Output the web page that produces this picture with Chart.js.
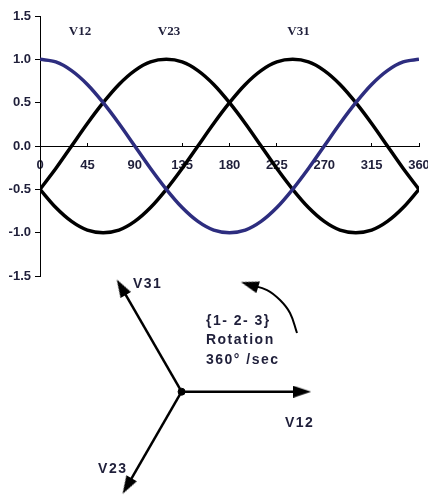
<!DOCTYPE html>
<html>
<head>
<meta charset="utf-8">
<script src="https://cdn.jsdelivr.net/npm/chart.js@4/dist/chart.umd.min.js"></script>
<style>
  html, body { margin: 0; padding: 0; background: #fff; }
  #page { position: relative; width: 428px; height: 502px; overflow: hidden; }
  #waveBox { position: absolute; left: 0; top: 0; width: 428px; height: 292px; }
  #phasorBox { position: absolute; left: 0; top: 262px; width: 428px; height: 240px; }
</style>
</head>
<body>
<div id="page">
  <div id="waveBox"><canvas id="waveChart"></canvas></div>
  <div id="phasorBox"><canvas id="phasorChart"></canvas></div>
</div>
<script>
// Winkel in Grad (x-Achse)
let angles = [0, 15, 30, 45, 60, 75, 90, 105, 120, 135, 150, 165, 180, 195, 210, 225, 240, 255, 270, 285, 300, 315, 330, 345, 360];
// Spannungsverläufe
let v12 = [1.00, 0.97, 0.87, 0.71, 0.50, 0.26, 0.00, -0.26, -0.50, -0.71, -0.87, -0.97, -1.00, -0.97, -0.87, -0.71, -0.50, -0.26, 0.00, 0.26, 0.50, 0.71, 0.87, 0.97, 1.00];
let v23 = [-0.50, -0.26, 0.00, 0.26, 0.50, 0.71, 0.87, 0.97, 1.00, 0.97, 0.87, 0.71, 0.50, 0.26, 0.00, -0.26, -0.50, -0.71, -0.87, -0.97, -1.00, -0.97, -0.87, -0.71, -0.50];
let v31 = [-0.50, -0.71, -0.87, -0.97, -1.00, -0.97, -0.87, -0.71, -0.50, -0.26, 0.00, 0.26, 0.50, 0.71, 0.87, 0.97, 1.00, 0.97, 0.87, 0.71, 0.50, 0.26, 0.00, -0.26, -0.50];
// Beschriftungen der Kurven
let waveNames = ['V12', 'V23', 'V31'];
let waveNameX = [38, 122.5, 245.5];
let waveNameY = [1.28, 1.28, 1.28];

// Zeigerdiagramm
let phasorNames = ['V12', 'V23', 'V31'];
let phasorAngles = [0, 240, 120];
let phasorLengths = [0.93, 0.84, 0.93];
let phasorNameX = [0.797, -0.644, -0.375];
let phasorNameY = [-0.272, -0.627, 0.80];
// Drehpfeil
let arcX = [0.890, 0.836, 0.759, 0.659, 0.524];
let arcY = [0.453, 0.607, 0.707, 0.784, 0.825];
let arcHeadRotation = 287;
let rotationText = ['{1- 2- 3}', 'Rotation', '360° /sec'];
let rotationTextX = 0.188;
let rotationTextY = [0.514, 0.368, 0.214];

let textColor = '#1f1f3a';
let navy = '#2d2d7f';

// Pfeilspitze als kleines Bild
let arrowHead = document.createElement('canvas');
arrowHead.width = 12;
arrowHead.height = 18;
let ah = arrowHead.getContext('2d');
ah.fillStyle = '#000';
ah.beginPath();
ah.moveTo(6, 0);
ah.lineTo(12, 18);
ah.lineTo(0, 18);
ah.closePath();
ah.fill();

// Plugin für Textbeschriftungen in Datenkoordinaten
let textPlugin = {
  id: 'texts',
  afterDatasetsDraw(chart, args, opts) {
    let ctx = chart.ctx;
    ctx.save();
    opts.items.forEach(item => {
      ctx.font = item.font;
      ctx.fillStyle = item.color || textColor;
      ctx.textAlign = item.align || 'left';
      ctx.textBaseline = 'alphabetic';
      ctx.letterSpacing = item.spacing || '0px';
      ctx.fillText(item.text, chart.scales.x.getPixelForValue(item.x), chart.scales.y.getPixelForValue(item.y));
    });
    ctx.restore();
  }
};

let tickFont = { family: 'Liberation Sans, Arial', size: 13, weight: 'bold' };

let waveConfig = {
  type: 'line',
  data: {
    datasets: [
      { label: 'V12', data: angles.map((a, i) => ({ x: a, y: v12[i] })), borderColor: navy, borderWidth: 3.5 },
      { label: 'V23', data: angles.map((a, i) => ({ x: a, y: v23[i] })), borderColor: '#000', borderWidth: 3.5 },
      { label: 'V31', data: angles.map((a, i) => ({ x: a, y: v31[i] })), borderColor: '#000', borderWidth: 3.5 }
    ]
  },
  options: {
    responsive: true,
    maintainAspectRatio: false,
    animation: false,
    events: [],
    layout: { autoPadding: false, padding: { top: 16, left: 0, right: 9, bottom: 16 } },
    elements: { point: { radius: 0 }, line: { cubicInterpolationMode: 'monotone' } },
    scales: {
      x: {
        type: 'linear', min: 0, max: 360,
        position: { y: 0 },
        afterFit: scale => { scale.paddingLeft = 0; scale.paddingRight = 0; },
        border: { color: '#000', width: 1 },
        grid: { drawOnChartArea: false, color: '#000', tickLength: -4 },
        ticks: { stepSize: 45, color: textColor, font: tickFont, padding: 16, maxRotation: 0, autoSkip: false }
      },
      y: {
        min: -1.5, max: 1.5,
        afterFit: scale => { scale.width = 40; },
        border: { color: '#000', width: 1 },
        grid: { drawOnChartArea: false, color: '#000', tickLength: 5 },
        ticks: { stepSize: 0.5, color: textColor, font: tickFont, padding: 4, callback: v => v.toFixed(1) }
      }
    },
    plugins: {
      legend: { display: false },
      tooltip: { enabled: false },
      texts: {
        items: waveNames.map((n, i) => ({ text: n, x: waveNameX[i], y: waveNameY[i], align: 'center', font: 'bold 13px "Liberation Serif", "Times New Roman"' }))
      }
    }
  },
  plugins: [textPlugin]
};

let phasorFont = 'bold 14px "Liberation Sans", Arial';
let phasorSets = phasorNames.map((n, i) => {
  let rad = phasorAngles[i] * Math.PI / 180;
  return {
    label: n,
    data: [{ x: 0, y: 0 }, { x: phasorLengths[i] * Math.cos(rad), y: phasorLengths[i] * Math.sin(rad) }],
    showLine: true,
    borderColor: '#000',
    borderWidth: 2.5,
    pointRadius: [0, 6],
    pointStyle: ['circle', arrowHead],
    rotation: [0, 90 - phasorAngles[i]]
  };
});
phasorSets.push({
  label: 'Drehung',
  data: arcX.map((x, i) => ({ x: x, y: arcY[i] })),
  showLine: true,
  borderColor: '#000',
  borderWidth: 2,
  tension: 0.4,
  pointRadius: arcX.map((x, i) => i === arcX.length - 1 ? 6 : 0),
  pointStyle: arrowHead,
  rotation: arcHeadRotation
});
phasorSets.push({
  label: 'Mitte',
  data: [{ x: 0, y: 0 }],
  pointRadius: 3.5,
  pointStyle: 'circle',
  backgroundColor: '#000',
  borderColor: '#000'
});

let phasorTexts = phasorNames.map((n, i) => ({ text: n, x: phasorNameX[i], y: phasorNameY[i], font: phasorFont, spacing: '1.5px' }));
rotationText.forEach((t, i) => phasorTexts.push({ text: t, x: rotationTextX, y: rotationTextY[i], font: phasorFont, spacing: '1.5px' }));

let phasorConfig = {
  type: 'scatter',
  data: { datasets: phasorSets },
  options: {
    responsive: true,
    maintainAspectRatio: false,
    animation: false,
    events: [],
    layout: { autoPadding: false, padding: 0 },
    scales: {
      x: { type: 'linear', min: -1.4, max: 1.9, display: false },
      y: { type: 'linear', min: -0.85, max: 1.0, display: false }
    },
    plugins: {
      legend: { display: false },
      tooltip: { enabled: false },
      texts: { items: phasorTexts }
    }
  },
  plugins: [textPlugin]
};

new Chart(document.getElementById('waveChart').getContext('2d'), waveConfig);
new Chart(document.getElementById('phasorChart').getContext('2d'), phasorConfig);
</script>
</body>
</html>
